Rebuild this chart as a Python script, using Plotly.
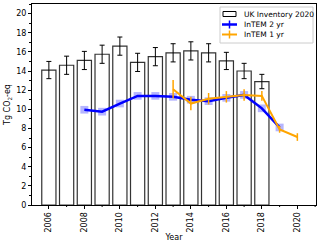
import plotly.graph_objects as go

years_inv = [2006, 2007, 2008, 2009, 2010, 2011, 2012, 2013, 2014, 2015, 2016, 2017, 2018]
inv_vals = [14.1, 14.6, 15.1, 15.75, 16.6, 14.9, 15.5, 15.9, 16.1, 15.9, 15.05, 14.0, 12.9]
inv_err = [0.9, 0.95, 0.95, 0.95, 0.95, 0.95, 0.95, 0.95, 0.95, 0.95, 0.9, 0.8, 0.75]

years_2yr = [2008, 2009, 2010, 2011, 2012, 2013, 2014, 2015, 2016, 2017, 2018, 2019]
vals_2yr = [9.95, 9.75, 10.6, 11.4, 11.4, 11.3, 11.0, 10.85, 11.2, 11.5, 10.1, 8.1]
err_2yr = [0.4] * 12

years_1yr = [2013, 2014, 2015, 2016, 2017, 2018, 2019, 2020]
vals_1yr = [12.1, 10.6, 11.1, 11.3, 11.5, 11.4, 7.9, 7.1]
err_1yr = [0.95, 0.7, 0.6, 0.6, 0.6, 0.5, 0.35, 0.4]

tick_years = [2006, 2008, 2010, 2012, 2014, 2016, 2018, 2020]
minor_years = [2005, 2007, 2009, 2011, 2013, 2015, 2017, 2019, 2021]
legend_labels = ["UK Inventory 2020", "InTEM 2 yr", "InTEM 1 yr"]

W, H = 320, 243
ML, MR, MT, MB = 32, 4, 4, 38
PW, PH = W - ML - MR, H - MT - MB

def px(x):
    return (x - ML) / PW

def py(y):
    return (H - MB - y) / PH

font = dict(family="DejaVu Sans", size=8, color="black")

fig = go.Figure()
fig.add_trace(go.Bar(
    x=years_inv, y=inv_vals, width=0.8, name=legend_labels[0],
    marker=dict(color="white", line=dict(color="#333333", width=1.2)),
    error_y=dict(type="data", array=inv_err, color="black", thickness=1, width=2.5),
))
fig.add_trace(go.Scatter(
    x=years_2yr, y=vals_2yr, mode="markers", marker=dict(size=0.1, color="rgba(0,0,0,0)"),
    showlegend=False, hoverinfo="skip",
    error_y=dict(type="data", array=err_2yr, color="rgba(90,90,255,0.45)", thickness=8, width=0),
))
fig.add_trace(go.Scatter(
    x=years_2yr, y=vals_2yr, mode="lines", name=legend_labels[1],
    line=dict(color="blue", width=2.5),
))
fig.add_trace(go.Scatter(
    x=years_1yr, y=vals_1yr, mode="lines", name=legend_labels[2],
    line=dict(color="orange", width=2),
    error_y=dict(type="data", array=err_1yr, color="orange", thickness=1.5, width=0),
))

shapes = [dict(type="rect", xref="paper", yref="paper",
               x0=px(220), x1=px(313), y0=py(43), y1=py(7),
               line=dict(color="#cccccc", width=1), fillcolor="rgba(255,255,255,0.8)", layer="above")]
shapes.append(dict(type="rect", xref="paper", yref="paper",
                   x0=px(223), x1=px(236), y0=py(16.5), y1=py(11.5),
                   line=dict(color="black", width=1), fillcolor="white", layer="above"))
for cy, col, lw in [(24.5, "blue", 2.5), (34.5, "orange", 2)]:
    shapes.append(dict(type="line", xref="paper", yref="paper",
                       x0=px(222), x1=px(237), y0=py(cy), y1=py(cy),
                       line=dict(color=col, width=lw), layer="above"))
    shapes.append(dict(type="line", xref="paper", yref="paper",
                       x0=px(229.5), x1=px(229.5), y0=py(cy - 4), y1=py(cy + 4),
                       line=dict(color=col, width=1.5), layer="above"))
# x minor ticks
for yr in minor_years:
    shapes.append(dict(type="line", xref="x", yref="paper", x0=yr, x1=yr,
                       y0=0, y1=py(H - MB + 2), line=dict(color="black", width=1)))
annotations = []
for cy, txt in zip([14, 24.5, 34.5], legend_labels):
    annotations.append(dict(xref="paper", yref="paper", x=px(242), y=py(cy),
                            xanchor="left", yanchor="middle", text=txt, showarrow=False,
                            font=dict(family="DejaVu Sans", size=7.5, color="black")))

fig.update_layout(
    width=W, height=H,
    margin=dict(l=ML, r=MR, t=MT, b=MB),
    paper_bgcolor="white", plot_bgcolor="white",
    font=font,
    barmode="overlay",
    showlegend=False,
    shapes=shapes, annotations=annotations,
    xaxis=dict(
        range=[2005.05, 2021.05], tickmode="array", tickvals=tick_years,
        tickangle=-90, automargin=False, showgrid=False, zeroline=False,
        showline=True, linecolor="black", linewidth=1, mirror=True,
        ticks="outside", ticklen=3, tickcolor="black",
        title=dict(text="Year", font=font, standoff=2),
    ),
    yaxis=dict(
        range=[0, 21], dtick=2, automargin=False, showgrid=False, zeroline=False,
        showline=True, linecolor="black", linewidth=1, mirror=True,
        ticks="outside", ticklen=3, tickcolor="black",
        minor=dict(dtick=1, ticks="outside", ticklen=2, tickcolor="black"),
        title=dict(text="Tg CO<sub>2</sub>-eq", font=font, standoff=4),
    ),
)

fig.write_html("out.html", config={"displayModeBar": False},
               post_script="document.body.style.margin='0';")
